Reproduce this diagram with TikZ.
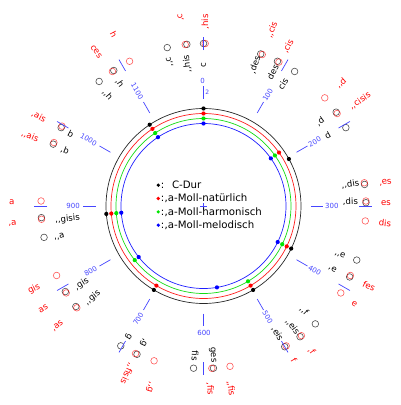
\documentclass[tikz,border=0pt]{standalone}
\usepackage{fontspec}
\setmainfont{DejaVu Sans}
\definecolor{tickblue}{RGB}{70,70,255}
\definecolor{ringblack}{RGB}{40,40,40}
\definecolor{ringred}{RGB}{255,30,30}
\definecolor{ringgreen}{RGB}{20,220,20}
\definecolor{ringblue}{RGB}{30,30,255}
\definecolor{dotgreen}{RGB}{0,230,0}
\newcounter{labnr}
\newcommand\labo[4]{\stepcounter{labnr}\node[notelab,text=#4,rotate={90-0.3*#1}] (lab\arabic{labnr}) at ({90-0.3*#1}:#2) {#3};}
\newcommand\labi[4]{\stepcounter{labnr}\node[notelab,text=#4,rotate={270-0.3*#1}] (lab\arabic{labnr}) at ({90-0.3*#1}:#2) {#3};}
\tikzset{
  notelab/.style={font=\fontsize{8.6}{10}\selectfont, inner sep=0pt},
  ticklab/.style={font=\fontsize{7}{8}\selectfont, text=tickblue, inner sep=0pt},
  legtext/.style={font=\fontsize{10.2}{12}\selectfont, inner sep=0pt, anchor=base west},
  tickline/.style={draw=tickblue, line width=0.7pt},
  blackcirc/.style={draw=black!70, line width=0.6pt},
  redcirc/.style={draw=red, opacity=0.65, line width=0.6pt}
}
\begin{document}
\begin{tikzpicture}[x=1pt,y=1pt]
\useasboundingbox (-203.5,-199) rectangle (196.5,206);
\fill[white] (-203.5,-199) rectangle (196.5,206);

% rings
\draw[ringblack, line width=0.7pt] (0,0) circle (97.5);
\draw[ringred, line width=0.7pt] (0,0) circle (92.5);
\draw[ringgreen, line width=0.7pt] (0,0) circle (87.5);
\draw[ringblue, line width=0.7pt] (0,0) circle (82.5);

% centre cross
\draw[tickblue, line width=0.6pt] (-3.5,0) -- (3.5,0) (0,-3.5) -- (0,3.5);

% scale dots
\foreach \c in {0,203.9,386.3,498,702,884.4,1088.3}
  \fill[black] ({90-0.3*\c}:97.5) circle (2.1);
\foreach \c in {1088.3,0,182.4,386.3,498,702,884.4}
  \fill[red] ({90-0.3*\c}:92.5) circle (2.1);
\foreach \c in {1088.3,0,182.4,386.3,498,772.6,884.4}
  \fill[dotgreen] ({90-0.3*\c}:87.5) circle (2.1);
\foreach \c in {1088.3,0,182.4,386.3,568.7,772.6,884.4}
  \fill[blue] ({90-0.3*\c}:82.5) circle (2.1);

% note circles
\foreach \c in {1180.4,0,68.7,90.2,113.7,182.4,203.9,274.6,296.1,364.8,386.3,455,478.5,500,588.3,611.7,680.5,702,772.6,794.1,862.9,886.3,974.6,996.1,1066.8,1088.3,1157}
  \draw[blackcirc] ({90-0.3*\c}:162.5) circle (3.3);
\foreach \c in {1178.5,2,70.7,92.2,160.9,184.4,272.6,294.1,317.6,384.4,407.8,476.5,498,568.7,590.2,659,682.4,770.7,792.2,815.6,884.4,905.9,976.6,998.1,1086.3,1109.8}
  \draw[redcirc] ({90-0.3*\c}:162.5) circle (3.3);

% ticks
\foreach \k in {0,...,11} {
  \draw[tickline] ({90-30*\k}:107.5) -- ({90-30*\k}:120);
  \draw[tickline] ({90-30*\k}:156) -- ({90-30*\k}:169);
}
\foreach \k in {1,...,5}
  \node[ticklab, anchor=west, rotate={90-30*\k}] (t\k) at ({90-30*\k}:121.5) {\k00};
\foreach \k in {7,...,11}
  \node[ticklab, anchor=east, rotate={270-30*\k}] (t\k) at ({90-30*\k}:123.5) {\k00};
\node[ticklab] (t6) at (0.5,-126.5) {600};
\node[ticklab] (t0) at (-0.8,125) {0};
\node[ticklab, font=\fontsize{6}{7}\selectfont] (t0b) at (3.8,113.7) {2};

% note labels
\labo{1156}{148}{{,}{,}c}{black}
\labo{1178}{143}{{,}{,}his}{black}
\labo{0}{141}{c}{black}
\labo{1177}{190}{{,}c}{red}
\labo{2}{184}{{,}his}{red}
\labo{67}{150}{{,}des}{black}
\labo{91}{151}{des}{black}
\labo{110}{146}{cis}{black}
\labo{70.7}{188.8}{{,}{,}cis}{red}
\labo{93}{180.7}{{,}cis}{red}
\labo{160.6}{184.5}{{,}{,}d}{red}
\labo{187}{188.5}{{,}{,}cisis}{red}
\labo{180}{144}{{,}d}{black}
\labo{201}{143}{d}{black}
\labo{271.6}{148.5}{{,}{,}dis}{black}
\labo{294.7}{147}{{,}dis}{black}
\labo{275.5}{183.5}{{,}es}{red}
\labo{296.6}{182.5}{es}{red}
\labo{317.8}{182.3}{dis}{red}
\labo{365.4}{144.9}{{,}{,}e}{black}
\labo{386.7}{143.6}{{,}e}{black}
\labo{386}{183.8}{fes}{red}
\labo{410}{179.9}{e}{red}
\labo{453.6}{145}{{,}{,}f}{black}
\labo{478.6}{150}{{,}{,}eis}{black}
\labo{500}{147.8}{{,}eis}{black}
\labo{477.7}{181}{{,}f}{red}
\labo{498.7}{179}{f}{red}
\labo{610.8}{150}{fis}{black}
\labo{588.3}{149.3}{ges}{black}
\labo{593}{183.1}{{,}fis}{red}
\labo{571.4}{184.4}{{,}{,}fis}{red}
\labo{679}{149}{{,}g}{black}
\labo{699.7}{150.8}{g}{black}
\labo{654.7}{189}{{,}{,}g}{red}
\labo{681.5}{183.8}{{,}{,}fisis}{red}
\labi{791}{144.7}{{,}gis}{black}
\labi{768.3}{143.9}{{,}{,}gis}{black}
\labi{813}{188.7}{gis}{red}
\labi{791}{190.4}{as}{red}
\labi{768.6}{188.9}{{,}as}{red}
\labi{903.8}{191.8}{a}{red}
\labi{881.6}{136.6}{{,}{,}gisis}{black}
\labi{882.8}{191.8}{{,}a}{red}
\labi{860}{147.5}{{,}{,}a}{black}
\labi{995}{187.4}{{,}ais}{red}
\labi{994.7}{150.9}{b}{black}
\labi{972.7}{186.8}{{,}{,}ais}{red}
\labi{973}{149.4}{{,}b}{black}
\labi{1084}{188}{ces}{red}
\labi{1108}{193.9}{h}{red}
\labi{1085.4}{148.5}{{,}h}{black}
\labi{1064}{146.8}{{,}{,}h}{black}

% legend
\fill[black] (-45.2,20.8) circle (1.8);
\fill[red] (-45.2,7.5) circle (1.8);
\fill[dotgreen] (-45.2,-5.9) circle (1.8);
\fill[blue] (-45.2,-19.2) circle (1.8);
\node[legtext] (l1) at (-42.7,17.5) {:\hspace{7.6pt}C-Dur};
\node[legtext] (l2) at (-42.7,4.2) {:\hspace{0.3pt}{,}a-Moll-natürlich};
\node[legtext] (l3) at (-42.7,-9.2) {:\hspace{0.3pt}{,}a-Moll-harmonisch};
\node[legtext] (l4) at (-42.7,-22.5) {:\hspace{0.3pt}{,}a-Moll-melodisch};
\end{tikzpicture}
\end{document}
